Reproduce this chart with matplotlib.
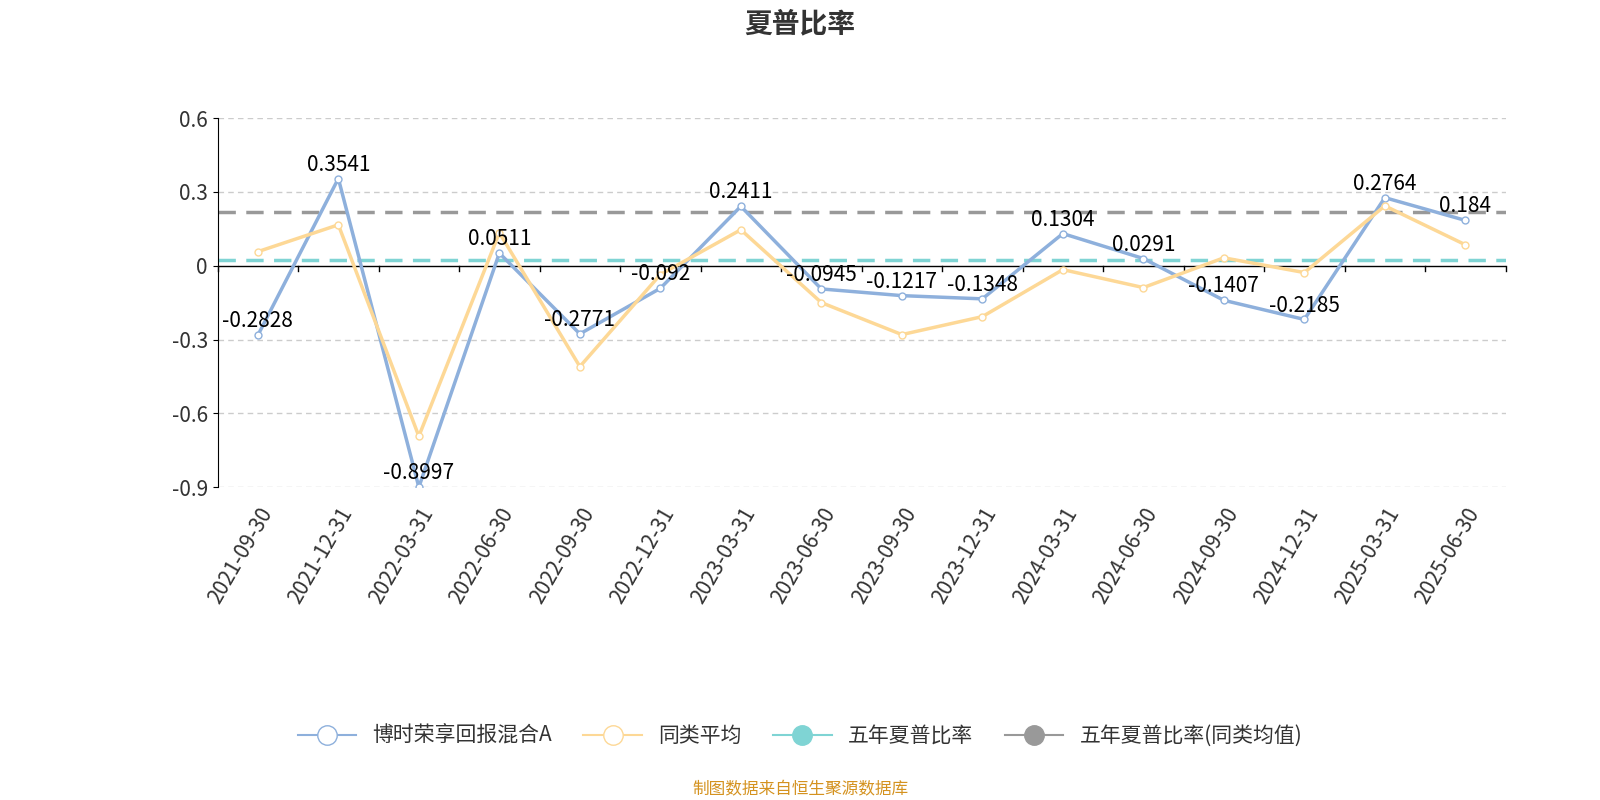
import matplotlib
matplotlib.use("Agg")
import matplotlib.pyplot as plt
from matplotlib.lines import Line2D

plt.rcParams["font.family"] = ["Noto Sans CJK SC", "DejaVu Sans"]

dates = ["2021-09-30","2021-12-31","2022-03-31","2022-06-30","2022-09-30","2022-12-31",
         "2023-03-31","2023-06-30","2023-09-30","2023-12-31","2024-03-31","2024-06-30",
         "2024-09-30","2024-12-31","2025-03-31","2025-06-30"]
fund = [-0.2828,0.3541,-0.8997,0.0511,-0.2771,-0.092,0.2411,-0.0945,-0.1217,-0.1348,
        0.1304,0.0291,-0.1407,-0.2185,0.2764,0.184]
peer = [0.057,0.166,-0.693,0.134,-0.41,-0.036,0.146,-0.15,-0.28,-0.207,-0.016,-0.089,
        0.032,-0.028,0.243,0.085]
five_year = 0.024
five_year_peer = 0.219
yticks = [-0.9,-0.6,-0.3,0,0.3,0.6]

fig = plt.figure(figsize=(16,8), dpi=100)
ax = fig.add_axes([0.136,0.391,0.805,0.4615])
x = list(range(len(dates)))
ax.set_xlim(-0.5, len(dates)-0.5)
ax.set_ylim(-0.9, 0.6)
for t in yticks:
    if t != 0:
        ax.axhline(t, color="#cccccc", ls=(0,(4,3)), lw=1, zorder=0)
ax.axhline(0, color="black", lw=1, zorder=1)
for i in range(len(dates)+1):
    ax.plot([i-0.5, i-0.5], [0, -0.02], color="black", lw=1, clip_on=False, zorder=1)
ax.plot(x, fund, color="#8eb0dc", lw=2.5, marker="o", ms=5, mfc="white", mec="#8eb0dc", zorder=3)
ax.plot(x, peer, color="#fdd896", lw=2.5, marker="o", ms=5, mfc="white", mec="#fdd896", zorder=3)
ax.axhline(five_year, color="#7fd4d4", lw=2.5, ls=(0,(5,3)), zorder=2)
ax.axhline(five_year_peer, color="#999999", lw=2.5, ls=(0,(5,3)), zorder=2)
for xi, v in zip(x, fund):
    ax.text(xi, v+0.012, f"{v:g}", ha="center", va="bottom", fontsize=15, color="black", zorder=4)

ax.set_yticks(yticks)
ax.set_yticklabels([f"{t:g}" for t in yticks], fontsize=15, color="#333333")
ax.set_xticks(x)
ax.set_xticklabels(dates, rotation=60, ha="right", rotation_mode="anchor", fontsize=15, color="#333333")
ax.tick_params(axis="x", length=0, pad=12)
ax.spines["top"].set_visible(False)
ax.spines["right"].set_visible(False)
ax.spines["bottom"].set_visible(False)

fig.text(0.5, 0.97, "夏普比率", ha="center", va="center", fontsize=20, fontweight="bold", color="#333333")
handles = [
    Line2D([0],[0], color="#8eb0dc", lw=1.5, marker="o", ms=14, mfc="white", mec="#8eb0dc"),
    Line2D([0],[0], color="#fdd896", lw=1.5, marker="o", ms=14, mfc="white", mec="#fdd896"),
    Line2D([0],[0], color="#7fd4d4", lw=1.5, marker="o", ms=14, mfc="#7fd4d4", mec="#7fd4d4"),
    Line2D([0],[0], color="#999999", lw=1.5, marker="o", ms=14, mfc="#999999", mec="#999999"),
]
fig.legend(handles, ["博时荣享回报混合A","同类平均","五年夏普比率","五年夏普比率(同类均值)"],
           loc="center", bbox_to_anchor=(0.5, 0.08), ncol=4, frameon=False, fontsize=15,
           handlelength=2.8, columnspacing=1.5, labelcolor="#333333")
fig.text(0.5, 0.013, "制图数据来自恒生聚源数据库", ha="center", va="center", fontsize=12, color="#d4921f")
fig.savefig("out.png")
